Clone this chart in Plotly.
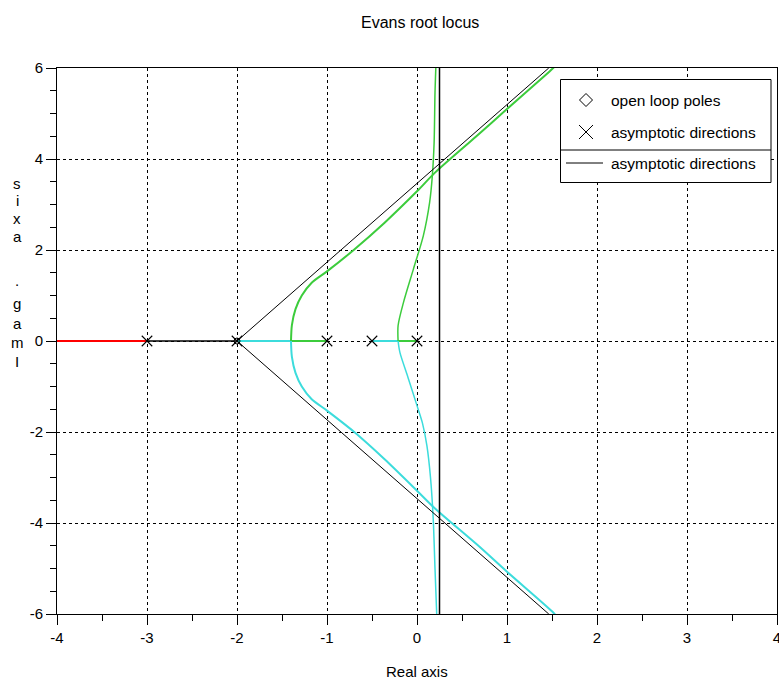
import plotly.graph_objects as go

# ---------------- data ----------------
poles_re = [-3.0, -2.0, -1.0, -0.5, 0.0]
poles_im = [0.0, 0.0, 0.0, 0.0, 0.0]
zeros_re = [-2.0]
zeros_im = [0.0]

# real-axis branch going left from pole -3 (red)
red_re = [-3.0, -4.0]
red_im = [0.0, 0.0]
# real-axis segment between -3 and -2 (black)
blk_re = [-3.0, -2.0]
blk_im = [0.0, 0.0]

# real-axis parts of the green / cyan branches
green_axis_outer_re = [-1.00, -1.40]
green_axis_inner_re = [0.00, -0.21]
cyan_axis_outer_re = [-2.00, -1.40]
cyan_axis_inner_re = [-0.50, -0.21]
axis_im = [0.0, 0.0]

# green branches (upper half plane), from the breakaway point outward
green_outer_re = [-1.40, -1.39, -1.35, -1.28, -1.17, -1.00, -0.71, -0.36, 0.00, 0.20, 0.66, 0.99, 1.47, 1.54]
green_outer_im = [0.00, 0.35, 0.70, 1.00, 1.28, 1.53, 1.99, 2.60, 3.29, 3.70, 4.50, 5.08, 5.92, 6.05]
green_inner_re = [-0.21, -0.21, -0.15, -0.04, 0.07, 0.14, 0.17, 0.19, 0.20, 0.21]
green_inner_im = [0.00, 0.34, 0.85, 1.58, 2.31, 3.04, 3.62, 4.35, 5.45, 6.05]

# cyan branches (lower half plane)
cyan_outer_re = [-1.40, -1.39, -1.35, -1.28, -1.17, -1.00, -0.71, -0.36, 0.00, 0.20, 0.67, 1.00, 1.50, 1.55]
cyan_outer_im = [0.00, -0.35, -0.70, -1.00, -1.28, -1.53, -1.98, -2.60, -3.29, -3.68, -4.48, -5.07, -5.94, -6.05]
cyan_inner_re = [-0.21, -0.19, -0.10, 0.00, 0.06, 0.11, 0.15, 0.18, 0.20, 0.22]
cyan_inner_im = [0.00, -0.25, -0.80, -1.42, -1.80, -2.30, -3.00, -3.90, -5.00, -6.05]

# asymptotes
asym_up_re = [-2.0, 1.464]
asym_up_im = [0.0, 6.0]
asym_dn_re = [-2.0, 1.464]
asym_dn_im = [0.0, -6.0]
asym_v_re = [0.25, 0.25]
asym_v_im = [-6.0, 6.0]

x_tickvals = [-4, -3, -2, -1, 0, 1, 2, 3, 4]
x_ticktext = ["-4", "-3", "-2", "-1", "0", "1", "2", "3", "4"]
y_tickvals = [-6, -4, -2, 0, 2, 4, 6]
y_ticktext = ["-6", "-4", "-2", "0", "2", "4", "6"]

legend_labels = ["open loop poles", "asymptotic directions", "asymptotic directions"]
title_text = "Evans root locus"
xlabel_text = "Real axis"
ylabel_text = "Imag. axis"

# ---------------- layout geometry ----------------
W, H = 779, 683
L, R, T, B = 57, 2, 68, 69
PW, PH = W - L - R, H - T - B
FONT = "Liberation Sans, Arial, Helvetica, sans-serif"
GREEN = "#3ccc3c"
CYAN = "#3cdcdc"


def px(x):
    return (x - L) / PW


def py(y):
    return (H - B - y) / PH


fig = go.Figure()


def line(xs, ys, color, width, shape="linear"):
    fig.add_trace(go.Scatter(x=xs, y=ys, mode="lines", showlegend=False,
                             hoverinfo="skip",
                             line=dict(color=color, width=width, shape=shape,
                                       smoothing=0.8)))


line(red_re, red_im, "#ff0000", 2)
line(blk_re, blk_im, "#000000", 1.6)
line(green_axis_outer_re, axis_im, GREEN, 2)
line(green_axis_inner_re, axis_im, GREEN, 2)
line(cyan_axis_outer_re, axis_im, CYAN, 2)
line(cyan_axis_inner_re, axis_im, CYAN, 2)
line(green_outer_re, green_outer_im, GREEN, 2, "spline")
line(green_inner_re, green_inner_im, GREEN, 1.5, "spline")
line(cyan_outer_re, cyan_outer_im, CYAN, 2, "spline")
line(cyan_inner_re, cyan_inner_im, CYAN, 1.5, "spline")
line(asym_up_re, asym_up_im, "#000000", 1)
line(asym_dn_re, asym_dn_im, "#000000", 1)
line(asym_v_re, asym_v_im, "#000000", 1.5)

fig.add_trace(go.Scatter(x=poles_re, y=poles_im, mode="markers", showlegend=False,
                         hoverinfo="skip",
                         marker=dict(symbol="x-thin-open", size=10.5, color="black",
                                     line=dict(color="black", width=1.1))))
fig.add_trace(go.Scatter(x=zeros_re, y=zeros_im, mode="markers", showlegend=False,
                         hoverinfo="skip",
                         marker=dict(symbol="circle-open", size=6, color="black",
                                     line=dict(color="black", width=1))))

axis_common = dict(
    showline=True, linecolor="black", linewidth=1, mirror=True,
    ticks="outside", ticklen=10, tickwidth=1, tickcolor="black",
    showgrid=True, gridcolor="black", gridwidth=1, griddash="dot",
    zeroline=False, tickfont=dict(family=FONT, size=15, color="black"),
    ticklabeloverflow="allow", automargin=False,
)

fig.update_xaxes(range=[-4, 4], tickvals=x_tickvals, ticktext=x_ticktext,
                 minor=dict(ticks="outside", ticklen=6, dtick=0.5, tickcolor="black",
                            tickwidth=1, showgrid=False),
                 **axis_common)
fig.update_yaxes(range=[-6, 6], tickvals=y_tickvals, ticktext=y_ticktext,
                 minor=dict(ticks="outside", ticklen=6, dtick=0.5, tickcolor="black",
                            tickwidth=1, showgrid=False),
                 **axis_common)

shapes = []
annotations = []

# legend box
lx0, lx1, ly0, ly1 = 560.5, 771, 79.5, 182.5
shapes.append(dict(type="rect", xref="paper", yref="paper",
                   x0=px(lx0), x1=px(lx1), y0=py(ly1), y1=py(ly0),
                   line=dict(color="black", width=1), fillcolor="white", layer="above"))
shapes.append(dict(type="line", xref="paper", yref="paper",
                   x0=px(lx0), x1=px(lx1), y0=py(150), y1=py(150),
                   line=dict(color="black", width=1), layer="above"))
# diamond symbol
cx, cy, d = 586, 100, 6.5
shapes.append(dict(type="path", xref="paper", yref="paper", layer="above",
                   path="M {} {} L {} {} L {} {} L {} {} Z".format(
                       px(cx), py(cy - d), px(cx + d), py(cy), px(cx), py(cy + d), px(cx - d), py(cy)),
                   line=dict(color="black", width=1)))
# cross symbol
cx, cy, d = 586, 132, 7
shapes.append(dict(type="line", xref="paper", yref="paper", layer="above",
                   x0=px(cx - d), x1=px(cx + d), y0=py(cy - d), y1=py(cy + d),
                   line=dict(color="black", width=1)))
shapes.append(dict(type="line", xref="paper", yref="paper", layer="above",
                   x0=px(cx - d), x1=px(cx + d), y0=py(cy + d), y1=py(cy - d),
                   line=dict(color="black", width=1)))
# line symbol
shapes.append(dict(type="line", xref="paper", yref="paper", layer="above",
                   x0=px(566), x1=px(603), y0=py(163), y1=py(163),
                   line=dict(color="black", width=1)))

for lab, yy in zip(legend_labels, [100, 132, 163]):
    annotations.append(dict(text=lab, xref="paper", yref="paper", x=px(609), y=py(yy),
                            xanchor="left", yanchor="middle", showarrow=False,
                            font=dict(family=FONT, size=15.5, color="black")))

# title and axis labels
annotations.append(dict(text=title_text, xref="paper", yref="paper", x=px(420), y=py(22),
                        xanchor="center", yanchor="middle", showarrow=False,
                        font=dict(family=FONT, size=16, color="black")))
annotations.append(dict(text=xlabel_text, xref="paper", yref="paper", x=px(417), y=py(671),
                        xanchor="center", yanchor="middle", showarrow=False,
                        font=dict(family=FONT, size=15, color="black")))

# vertical stacked y label (read bottom to top)
ychars = list(ylabel_text)[::-1]
ypos = [183, 200, 218, 236, 258, 280, 303, 323, 342, 361]
for ch, yy in zip(ychars, ypos):
    if ch == " ":
        continue
    annotations.append(dict(text=ch, xref="paper", yref="paper", x=px(17), y=py(yy),
                            xanchor="center", yanchor="middle", showarrow=False,
                            font=dict(family=FONT, size=15, color="black")))

fig.update_layout(
    width=W, height=H,
    margin=dict(l=L, r=R, t=T, b=B, pad=0, autoexpand=False),
    paper_bgcolor="white", plot_bgcolor="white",
    showlegend=False, hovermode=False,
    shapes=shapes, annotations=annotations,
    font=dict(family=FONT, size=15, color="black"),
)

fig.write_html("out.html",
               config={"displayModeBar": False},
               post_script="document.body.style.margin='0';"
                           "document.body.style.overflow='hidden';")
